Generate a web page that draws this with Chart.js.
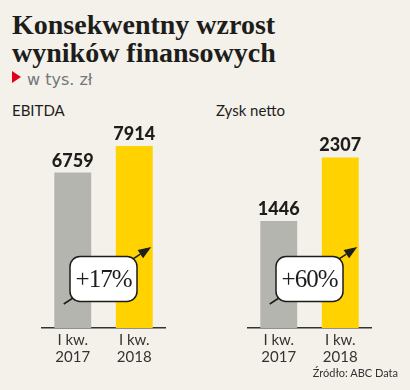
<!DOCTYPE html>
<html lang="pl">
<head>
<meta charset="utf-8">
<script src="https://cdn.jsdelivr.net/npm/chart.js@4/dist/chart.umd.min.js"></script>
<style>
  html, body { margin: 0; padding: 0; }
  body { width: 410px; height: 390px; background: #f4f1ea; position: relative; overflow: hidden; font-family: Lato, "Open Sans", sans-serif; color: #222; }
  #title { position: absolute; left: 12px; top: 11px; margin: 0; font: bold 28px/28px "Liberation Serif", serif; color: #1d1d1b; white-space: nowrap; }
  #unit { position: absolute; left: 27px; top: 70px; font: 16px "DejaVu Sans", sans-serif; color: #71767a; }
  #tri { position: absolute; left: 12px; top: 71px; width: 0; height: 0; border-top: 6.5px solid transparent; border-bottom: 6.5px solid transparent; border-left: 9px solid #e3001b; }
  .panel-title { position: absolute; top: 101px; font-size: 15px; color: #1d1d1b; }
  canvas { position: absolute; top: 100px; }
  #source { position: absolute; right: 12px; top: 366px; font-size: 11px; color: #333; }
</style>
</head>
<body>
<h1 id="title">Konsekwentny wzrost<br>wyników finansowych</h1>
<div id="tri"></div>
<div id="unit">w tys. zł</div>
<div class="panel-title" style="left:12px">EBITDA</div>
<div class="panel-title" style="left:216px">Zysk netto</div>
<canvas id="ebitda" width="190" height="280" style="left:0px"></canvas>
<canvas id="profit" width="190" height="280" style="left:206px"></canvas>
<div id="source">Źródło: ABC Data</div>
<script>
const categories = [["I kw.", "2017"], ["I kw.", "2018"]];
const ebitdaValues = [6759, 7914];
const profitValues = [1446, 2307];
const growthLabels = ["+17%", "+60%"];
const barColors = ["#b5b5b0", "#ffd200"];

// numbers above the bars
const valueLabels = {
    id: 'valueLabels',
    afterDatasetsDraw(chart) {
        const ctx = chart.ctx;
        const meta = chart.getDatasetMeta(0);
        const values = chart.data.datasets[0].data;
        ctx.save();
        ctx.font = '900 18px Lato, sans-serif';
        ctx.fillStyle = '#1d1d1b';
        ctx.textAlign = 'center';
        ctx.textBaseline = 'alphabetic';
        meta.data.forEach((bar, i) => {
            ctx.fillText(values[i], bar.x, bar.y - 6);
        });
        ctx.restore();
    }
};

// arrow + rounded box with the change
const growthBadge = {
    id: 'growthBadge',
    afterDatasetsDraw(chart, args, opts) {
        const ctx = chart.ctx;
        const bars = chart.getDatasetMeta(0).data;
        const base = chart.scales.y.getPixelForValue(0);
        const x0 = bars[0].x - 9, y0 = base - 24;
        const x1 = bars[1].x + 17, y1 = base - 81;
        ctx.save();
        ctx.strokeStyle = '#1d1d1b';
        ctx.fillStyle = '#1d1d1b';
        ctx.lineWidth = 1.5;
        const ang = Math.atan2(y1 - y0, x1 - x0);
        const head = 13;
        ctx.beginPath();
        ctx.moveTo(x0, y0);
        ctx.lineTo(x1 - head * Math.cos(ang), y1 - head * Math.sin(ang));
        ctx.stroke();
        ctx.beginPath();
        ctx.moveTo(x1, y1);
        ctx.lineTo(x1 - head * Math.cos(ang) + 5 * Math.sin(ang), y1 - head * Math.sin(ang) - 5 * Math.cos(ang));
        ctx.lineTo(x1 - head * Math.cos(ang) - 5 * Math.sin(ang), y1 - head * Math.sin(ang) + 5 * Math.cos(ang));
        ctx.closePath();
        ctx.fill();

        const cx = (bars[0].x + bars[1].x) / 2;
        const cy = base - 49;
        const w = 67, h = 45;
        ctx.beginPath();
        ctx.roundRect(cx - w / 2, cy - h / 2, w, h, 10);
        ctx.fillStyle = '#ffffff';
        ctx.fill();
        ctx.lineWidth = 1.5;
        ctx.stroke();

        ctx.fillStyle = '#1d1d1b';
        ctx.font = '25px "Liberation Serif", serif';
        ctx.letterSpacing = '-1px';
        ctx.textAlign = 'center';
        ctx.textBaseline = 'middle';
        ctx.fillText(opts.text, cx, cy + 1);
        ctx.restore();
    }
};

function makeChart(id, values, maxValue, label) {
    return new Chart(document.getElementById(id), {
        type: 'bar',
        data: {
            labels: categories,
            datasets: [{
                data: values,
                backgroundColor: barColors,
                borderWidth: 0,
                barPercentage: 0.6,
                categoryPercentage: 1
            }]
        },
        options: {
            responsive: false,
            animation: false,
            devicePixelRatio: 1,
            layout: { padding: { left: 42, right: 25, top: 21, bottom: 12 } },
            scales: {
                x: {
                    grid: { display: false, drawTicks: false },
                    border: { display: true, color: '#333333', width: 1.5 },
                    ticks: { color: '#333333', font: { size: 15, family: 'Lato', lineHeight: 1.1 }, padding: 4, maxRotation: 0 },
                    afterFit: s => { s.height = 40; }
                },
                y: { display: false, min: 0, max: maxValue }
            },
            plugins: {
                legend: { display: false },
                tooltip: { enabled: false },
                growthBadge: { text: label }
            }
        },
        plugins: [valueLabels, growthBadge]
    });
}

makeChart('ebitda', ebitdaValues, 9000, growthLabels[0]);
makeChart('profit', profitValues, 2800, growthLabels[1]);
</script>
</body>
</html>
